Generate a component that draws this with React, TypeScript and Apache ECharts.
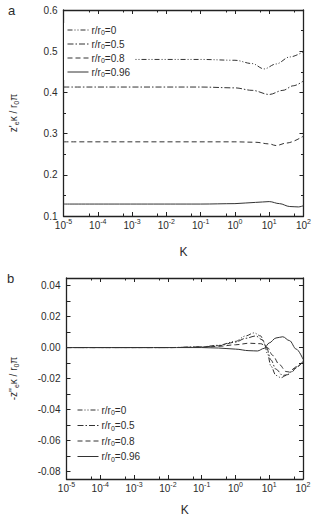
import React, { useEffect, useRef } from 'react';
import * as echarts from 'echarts';

// ---------- data ----------
const legendValues = ['0', '0.5', '0.8', '0.96'];

// panel a : z'_e kappa / r0 pi  (x given as log10 K)
const aExp0 = [-5, -1, 0, 0.5, 0.85, 1.2, 1.6, 2];
const aVal0 = [0.48, 0.48, 0.478, 0.47, 0.457, 0.469, 0.486, 0.499];
const aExp1 = [-5, -1, 0, 0.5, 1.0, 1.4, 1.7, 2];
const aVal1 = [0.413, 0.413, 0.411, 0.405, 0.395, 0.405, 0.416, 0.428];
const aExp2 = [-5, 0, 0.6, 1.0, 1.2, 1.5, 2];
const aVal2 = [0.28, 0.28, 0.279, 0.275, 0.271, 0.277, 0.294];
const aExp3 = [-5, -1, 0, 0.6, 1.0, 1.3, 1.6, 1.85, 2];
const aVal3 = [0.129, 0.129, 0.13, 0.133, 0.135, 0.13, 0.123, 0.122, 0.125];

// panel b : -z''_e kappa / r0 pi
const bExp0 = [-5, -2, -1, -0.5, 0, 0.3, 0.55, 0.75, 0.85, 0.95, 1.05, 1.2, 1.35, 1.5, 1.75, 2];
const bVal0 = [0, 0, 0.0005, 0.0015, 0.004, 0.0075, 0.0095, 0.0075, 0.003, -0.004, -0.012, -0.018, -0.0195, -0.018, -0.0135, -0.009];
const bExp1 = [-5, -2, -1, -0.5, 0, 0.3, 0.6, 0.8, 0.92, 1.05, 1.2, 1.4, 1.55, 1.8, 2];
const bVal1 = [0, 0, 0.0004, 0.0012, 0.0035, 0.006, 0.0075, 0.005, 0, -0.008, -0.014, -0.018, -0.0175, -0.0125, -0.009];
const bExp2 = [-5, -2, -1, -0.5, 0, 0.4, 0.75, 0.95, 1.1, 1.3, 1.5, 1.65, 1.85, 2];
const bVal2 = [0, 0, 0.0002, 0.0008, 0.0018, 0.0028, 0.0025, 0, -0.005, -0.011, -0.0155, -0.016, -0.012, -0.009];
const bExp3 = [-5, -2, -1, -0.5, 0, 0.4, 0.65, 0.85, 1.0, 1.2, 1.4, 1.6, 1.8, 2];
const bVal3 = [0, 0, 0, -0.0003, -0.001, -0.002, -0.0022, -0.0005, 0.003, 0.0062, 0.007, 0.0045, -0.001, -0.0075];

const yTicksA = [0.1, 0.2, 0.3, 0.4, 0.5, 0.6];
const xMinExp = -5;
const xMaxExp = 2;

const FONT = '"Liberation Sans", Arial, sans-serif';
const INK = '#2b2b2b';
const LINE = '#333';
const dashes: any[] = [[5, 2, 1, 2, 1, 2], [6, 2, 1.5, 2], [5, 3], 'solid'];

function toPairs(exps: number[], vals: number[]) {
  return exps.map((e, i) => [Math.pow(10, e), vals[i]]);
}

const subRich = {
  n: { fontSize: 10, fontFamily: FONT, color: INK, lineHeight: 13 },
  s: { fontSize: 7, fontFamily: FONT, color: INK, lineHeight: 7, verticalAlign: 'bottom' },
};

export default function App() {
  const ref = useRef<HTMLDivElement>(null);
  useEffect(() => {
    document.body.style.margin = '0';
    const chart = echarts.init(ref.current!, undefined, { renderer: 'svg' });

    const xLabel = {
      show: true,
      margin: 2,
      formatter: (v: number) => `{b|10}{s|${Math.round(Math.log10(v))}}`,
      rich: {
        b: { fontSize: 10, fontFamily: FONT, color: INK, lineHeight: 14 },
        s: { fontSize: 7, fontFamily: FONT, color: INK, lineHeight: 8, verticalAlign: 'top' },
      },
    };
    const axisLine = { show: true, onZero: false, lineStyle: { color: '#222', width: 1.3 } };
    const tick = { show: true, inside: true, length: 4, lineStyle: { color: '#222', width: 1 } };
    const minor = { show: true, splitNumber: 2, length: 2.5, lineStyle: { color: '#222', width: 1 } };

    const xAxisFor = (g: number, pos: string, labels: boolean, gap: number) => ({
      type: 'log',
      gridIndex: g,
      position: pos,
      min: Math.pow(10, xMinExp),
      max: Math.pow(10, xMaxExp),
      logBase: 10,
      splitNumber: 7,
      axisLine,
      axisTick: tick,
      minorTick: minor,
      splitLine: { show: false },
      minorSplitLine: { show: false },
      axisLabel: labels ? xLabel : { show: false },
      name: labels ? 'K' : '',
      nameLocation: 'middle',
      nameGap: gap,
      nameTextStyle: { fontSize: 12, fontFamily: FONT, color: INK },
    });

    const yA = (pos: string, labels: boolean) => ({
      type: 'value',
      gridIndex: 0,
      position: pos,
      min: yTicksA[0],
      max: yTicksA[yTicksA.length - 1],
      interval: 0.1,
      axisLine,
      axisTick: tick,
      minorTick: minor,
      splitLine: { show: false },
      axisLabel: labels
        ? { show: true, margin: 6, fontSize: 10, fontFamily: FONT, color: INK, formatter: (v: number) => v.toFixed(1) }
        : { show: false },
      name: labels ? `{n|z'}{s|e}{n|κ / r}{s|0}{n|π}` : '',
      nameLocation: 'middle',
      nameGap: 44,
      nameRotate: 90,
      nameTextStyle: { rich: subRich },
    });

    const yB = (pos: string, labels: boolean) => ({
      type: 'value',
      gridIndex: 1,
      position: pos,
      min: -0.085,
      max: 0.045,
      splitNumber: 13,
      axisLine,
      axisTick: tick,
      splitLine: { show: false },
      axisLabel: labels
        ? {
            show: true, margin: 6, fontSize: 10, fontFamily: FONT, color: INK,
            showMinLabel: false, showMaxLabel: false,
            formatter: (v: number) => {
              const h = v * 100;
              const r = Math.round(h);
              if (Math.abs(h - r) > 1e-6 || r % 2 !== 0) return '';
              if (r === 0) return '0.00';
              return v.toFixed(2);
            },
          }
        : { show: false },
      name: labels ? `{n|-z''}{s|e}{n|κ / r}{s|0}{n|π}` : '',
      nameLocation: 'middle',
      nameGap: 47,
      nameRotate: 90,
      nameTextStyle: { rich: subRich },
    });

    const aSets = [[aExp0, aVal0], [aExp1, aVal1], [aExp2, aVal2], [aExp3, aVal3]];
    const bSets = [[bExp0, bVal0], [bExp1, bVal1], [bExp2, bVal2], [bExp3, bVal3]];

    const mkSeries = (prefix: string, sets: number[][][], xi: number, yi: number) =>
      sets.map((s, i) => ({
        name: prefix + i,
        type: 'line',
        xAxisIndex: xi,
        yAxisIndex: yi,
        data: toPairs(s[0], s[1]),
        symbol: 'none',
        smooth: 0.35,
        smoothMonotone: 'x',
        lineStyle: { color: LINE, width: 1, type: dashes[i] },
        itemStyle: { color: LINE },
        z: 2,
      }));

    const legendFmt = (name: string) => `{n|r/r}{s|0}{n|=${legendValues[Number(name.slice(1))]}}`;
    const legendRich = {
      n: { fontSize: 10, fontFamily: FONT, color: INK, lineHeight: 12 },
      s: { fontSize: 7, fontFamily: FONT, color: INK, lineHeight: 6, verticalAlign: 'bottom' },
    };
    const legendCommon = {
      orient: 'vertical',
      itemWidth: 21,
      itemHeight: 10,
      padding: [2, 4, 2, 3],
      backgroundColor: '#fff',
      selectedMode: false,
      formatter: legendFmt,
      itemStyle: { color: 'rgba(0,0,0,0)', opacity: 0, borderWidth: 0 },
      lineStyle: { width: 1 },
      textStyle: { rich: legendRich, padding: [0, 0, 0, -2] },
      z: 5,
    };

    chart.setOption({
      animation: false,
      backgroundColor: '#fff',
      grid: [
        { left: 53, top: 10, width: 253, height: 206 },
        { left: 54, top: 278, width: 249, height: 203 },
      ],
      xAxis: [xAxisFor(0, 'bottom', true, 30), xAxisFor(0, 'top', false, 0), xAxisFor(1, 'bottom', true, 25), xAxisFor(1, 'top', false, 0)],
      yAxis: [yA('left', true), yA('right', false), yB('left', true), yB('right', false)],
      legend: [
        { ...legendCommon, data: ['a0', 'a1', 'a2', 'a3'], left: 64, top: 23, itemGap: 3 },
        { ...legendCommon, data: ['b0', 'b1', 'b2', 'b3'], left: 74, top: 403, itemGap: 4.5 },
      ],
      graphic: [
        { type: 'text', left: 8, top: 4, style: { text: 'a', fontSize: 13, fontFamily: FONT, fill: INK } },
        { type: 'text', left: 7, top: 272, style: { text: 'b', fontSize: 13, fontFamily: FONT, fill: INK } },
      ],
      series: [...mkSeries('a', aSets, 0, 0), ...mkSeries('b', bSets, 2, 2)],
    });
    return () => chart.dispose();
  }, []);
  return <div ref={ref} style={{ position: 'absolute', left: 0, top: 0, width: 314, height: 517 }} />;
}
